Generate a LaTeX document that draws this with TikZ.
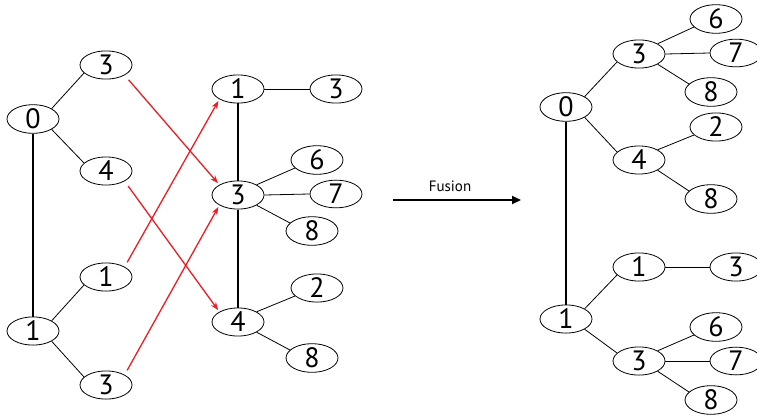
\documentclass[tikz,border=0pt]{standalone}
\usepackage{fontspec}
\setmainfont{PT Sans}
\usetikzlibrary{arrows.meta,shapes.geometric}
\definecolor{redarrow}{RGB}{237,28,36}
\tikzset{
  nd/.style={ellipse,draw,line width=0.8pt,minimum width=52pt,minimum height=25pt,inner sep=0pt,font=\fontsize{28}{28}\selectfont},
  edge/.style={line width=0.8pt},
  trunk/.style={line width=1.6pt},
  redarr/.style={redarrow,line width=1.3pt,-{Stealth[length=8pt,width=6pt]}},
}
\begin{document}
\begin{tikzpicture}[x=1pt,y=-1pt]
\useasboundingbox (0,0) rectangle (757,415);
% left
\node[nd] (L0) at (33,119) {0};
\node[nd] (L3) at (106,65) {3};
\node[nd] (L4) at (106,171) {4};
\node[nd] (L1a) at (106,277) {1};
\node[nd] (L1) at (33,331) {1};
\node[nd] (L3b) at (106,385) {3};
\draw[edge] (L0.north east) -- (L3.200);
\draw[edge] (L0.south east) -- (L4.160);
\draw[edge] (L1.north east) -- (L1a.200);
\draw[edge] (L1.south east) -- (L3b.160);
\draw[trunk] (L0) -- (L1);
% middle
\node[nd] (M1) at (238,89) {1};
\node[nd] (M1r) at (336,89) {3};
\node[nd] (M3) at (238,195) {3};
\node[nd] (M6) at (317,160) {6};
\node[nd] (M7) at (336,194) {7};
\node[nd] (M8) at (312,231) {8};
\node[nd] (M4) at (238,322) {4};
\node[nd] (M2) at (317,288) {2};
\node[nd] (M8b) at (312,358) {8};
\draw[trunk] (M1) -- (M3);
\draw[trunk] (M3) -- (M4);
\draw[edge] (M1.east) -- (M1r.west);
\draw[edge] (M3.north east) -- (M6.200);
\draw[edge] (M3.east) -- (M7.west);
\draw[edge] (M3.south east) -- (M8.160);
\draw[edge] (M4.north east) -- (M2.200);
\draw[edge] (M4.south east) -- (M8b.160);
% red arrows
\draw[redarr,shorten <=6pt,shorten >=2pt] (L3.south east) -- (M3.north west);
\draw[redarr,shorten <=6pt,shorten >=2pt] (L4.south east) -- (M4.north west);
\draw[redarr,shorten <=5pt,shorten >=2pt] (L1a.north east) -- (M1.south west);
\draw[redarr,shorten <=5pt,shorten >=2pt] (L3b.north east) -- (M3.south west);
% fusion arrow
\coordinate (fa) at (393,200);
\coordinate (fb) at (521,200);
\draw[line width=2pt,-{Triangle[length=9pt,width=8pt]}] (fa) -- (fb);
\node[font=\fontsize{15}{15}\selectfont] (fl) at (450,186) {Fusion};
% right
\node[nd] (R0) at (566,107) {0};
\node[nd] (R3) at (639,54) {3};
\node[nd] (R6) at (716,19) {6};
\node[nd] (R7) at (736,53) {7};
\node[nd] (R8) at (711,92) {8};
\node[nd] (R4) at (639,160) {4};
\node[nd] (R2) at (716,127) {2};
\node[nd] (R8b) at (711,199) {8};
\node[nd] (R1) at (566,319) {1};
\node[nd] (R1a) at (639,267) {1};
\node[nd] (R3a) at (736,267) {3};
\node[nd] (R3b) at (639,361) {3};
\node[nd] (R6b) at (716,327) {6};
\node[nd] (R7b) at (736,361) {7};
\node[nd] (R8c) at (711,400) {8};
\draw[trunk] (R0) -- (R1);
\draw[edge] (R0.north east) -- (R3.200);
\draw[edge] (R0.south east) -- (R4.160);
\draw[edge] (R3.north east) -- (R6.200);
\draw[edge] (R3.east) -- (R7.west);
\draw[edge] (R3.south east) -- (R8.160);
\draw[edge] (R4.north east) -- (R2.200);
\draw[edge] (R4.south east) -- (R8b.160);
\draw[edge] (R1.north east) -- (R1a.200);
\draw[edge] (R1.south east) -- (R3b.160);
\draw[edge] (R1a.east) -- (R3a.west);
\draw[edge] (R3b.north east) -- (R6b.200);
\draw[edge] (R3b.east) -- (R7b.west);
\draw[edge] (R3b.south east) -- (R8c.160);
\end{tikzpicture}
\end{document}
